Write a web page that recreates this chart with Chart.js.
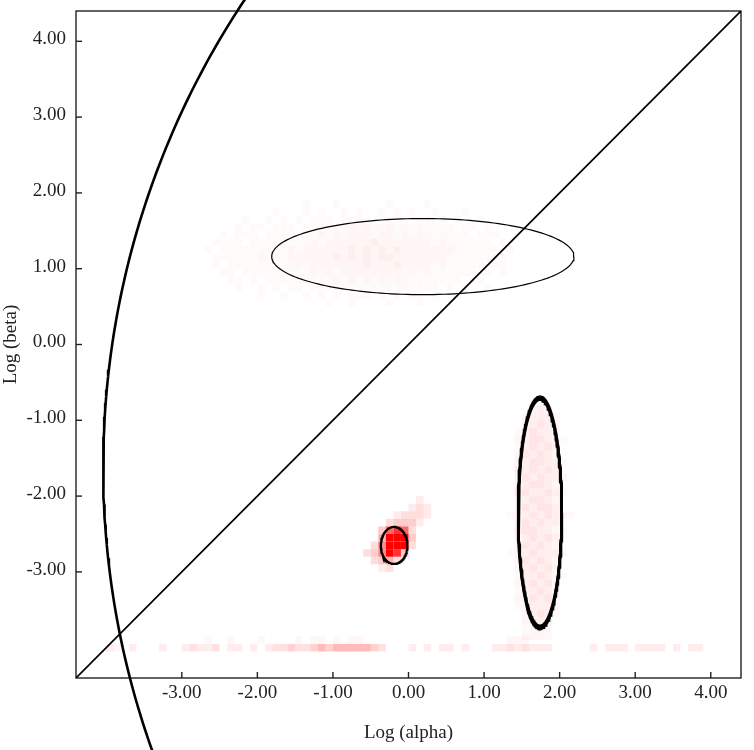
<!DOCTYPE html>
<html>
<head>
<meta charset="utf-8">
<script src="https://cdn.jsdelivr.net/npm/chart.js@4.4.1/dist/chart.umd.min.js"></script>
<style>
  html, body { margin: 0; padding: 0; background: #fff; }
  #wrap { width: 754px; height: 750px; }
</style>
</head>
<body>
<div id="wrap"><canvas id="grafico" width="754" height="750"></canvas></div>
<script>
// Ejes
const tickVals = [-3, -2, -1, 0, 1, 2, 3, 4];
const ejeMin = -4.4;
const ejeMax = 4.4;

// Intensidad de cada celda (digito 0-9 -> opacidad del rojo)
const niveles = [0, 0.04, 0.08, 0.13, 0.2, 0.3, 0.45, 0.6, 0.8, 1];
const paso = 0.1;

// Mancha roja (columnas desde x=-0.55, filas desde y=-2.05 hacia abajo)
const blobX0 = -0.55, blobY0 = -2.05;
const blobRows = [
    "000000020",
    "000000232",
    "000023332",
    "000344420",
    "004787300",
    "005999400",
    "036999300",
    "346984000",
    "034530000",
    "002300000"
];

// Elipse vertical (columnas desde x=1.35, filas desde y=-0.75)
const tallX0 = 1.35, tallY0 = -0.75;
const tallRows = [
    "000110000",
    "000232000",
    "002333100",
    "002343200",
    "013433200",
    "023443210",
    "013434300",
    "024343200",
    "023443310",
    "033434300",
    "024343320",
    "023443200",
    "034334310",
    "023443200",
    "024344300",
    "123434321",
    "024343300",
    "034433210",
    "023434300",
    "024343200",
    "123433310",
    "024343200",
    "023434200",
    "013343210",
    "023434200",
    "013343200",
    "022434100",
    "012333200",
    "002343100",
    "002333000",
    "001232000",
    "002221000"
];

// Zona de la elipse ancha (columnas desde x=-2.75, filas desde y=1.85)
const wideX0 = -2.75, wideY0 = 1.85;
const wideRows = [
    "00000000000000100010000001000010000000000000",
    "00000000001000101001010010101001000100000000",
    "00000010010101011101111011110110101001000000",
    "00000101101110111111212112111111110110100000",
    "00010111011111112121222122121211111101110000",
    "00111101111211121222222322222221211111101000",
    "01011111111121222222323232322222221111110100",
    "00111111211122222232323233222222211111111000",
    "00101111111112122222223222322221211111011000",
    "00011011111111121212222222212121111110101000",
    "00001101011111111121212121211111111011000000",
    "00000100101011011111111111111111010100100000",
    "00000000100100101010111010101101001000000000",
    "00000000000000000100100001000100000000000000"
];

// Banda inferior (columnas desde x=-3.95, filas desde y=-3.9)
const bandX0 = -3.95, bandY0 = -3.9;
const bandRows = [
    "00000000000001001000100001011010110000000000000000000111000000000000000000000000",
    "210200020023223022020233433454555554300020202202000223232220000020222022220202200"
];

// Factor de opacidad por zona
const factorBlob = 1, factorTall = 0.5, factorWide = 0.5, factorBand = 0.9;

// Elipses: centro y semiejes
const elipseCx = [0.19, -0.19, 1.74, 1.74];
const elipseCy = [1.16, -2.65, -2.22, -2.22];
const elipseRx = [2.0, 0.176, 0.288, 0.288];
const elipseRy = [0.502, 0.244, 1.53, 1.495];
const elipseAncho = [1.2, 2.2, 3, 3];

// Arco grande (circulo) y diagonal
const arcoCx = 7.06, arcoCy = -1.62, arcoR = 11.1;
const arcoYTop = 4.7, arcoYBottom = -5.5;
const diagonal = [-4.4, 4.4];

function celdas(x0, y0, filas) {
    const pts = [];
    filas.forEach((fila, r) => {
        for (let i = 0; i < fila.length; i++) {
            const d = Number(fila[i]);
            if (d > 0) {
                pts.push({ x: +(x0 + paso * i).toFixed(2), y: +(y0 - paso * r).toFixed(2), a: niveles[d] });
            }
        }
    });
    return pts;
}

function datasetCeldas(pts, factor) {
    return {
        type: 'scatter',
        data: pts,
        pointStyle: 'rect',
        pointRadius: 5.35,
        borderWidth: 0,
        backgroundColor: pts.map(p => 'rgba(255,0,0,' + (p.a * factor).toFixed(3) + ')'),
        order: 2
    };
}

function contornoElipse(i) {
    const pts = [];
    const n = 180;
    for (let k = 0; k <= n; k++) {
        const t = 2 * Math.PI * k / n;
        pts.push({ x: elipseCx[i] + elipseRx[i] * Math.cos(t), y: elipseCy[i] + elipseRy[i] * Math.sin(t) });
    }
    return pts;
}

function contornoArco() {
    const t1 = Math.PI - Math.asin((arcoYTop - arcoCy) / arcoR);
    const t2 = Math.PI - Math.asin((arcoYBottom - arcoCy) / arcoR);
    const pts = [];
    const n = 120;
    for (let k = 0; k <= n; k++) {
        const t = t1 + (t2 - t1) * k / n;
        pts.push({ x: arcoCx + arcoR * Math.cos(t), y: arcoCy + arcoR * Math.sin(t) });
    }
    return pts;
}

function linea(data, ancho, extra) {
    return Object.assign({
        type: 'scatter',
        data: data,
        showLine: true,
        borderColor: '#000',
        borderWidth: ancho,
        pointRadius: 0,
        fill: false,
        order: 0
    }, extra || {});
}

const datasets = [
    linea(contornoArco(), 2.6, { clip: false }),
    linea(diagonal.map(v => ({ x: v, y: v })), 1.7),
    ...elipseCx.map((_, i) => linea(contornoElipse(i), elipseAncho[i])),
    datasetCeldas(celdas(blobX0, blobY0, blobRows), factorBlob),
    datasetCeldas(celdas(tallX0, tallY0, tallRows), factorTall),
    datasetCeldas(celdas(wideX0, wideY0, wideRows), factorWide),
    datasetCeldas(celdas(bandX0, bandY0, bandRows), factorBand)
];

// Marco y marcas hacia dentro
const marco = {
    id: 'marco',
    beforeDatasetsDraw(chart) {
        const { ctx, chartArea: a, scales } = chart;
        ctx.save();
        ctx.strokeStyle = '#222';
        ctx.lineWidth = 1.4;
        ctx.strokeRect(a.left, a.top, a.right - a.left, a.bottom - a.top);
        tickVals.forEach(v => {
            const px = scales.x.getPixelForValue(v);
            ctx.beginPath();
            ctx.moveTo(px, a.bottom);
            ctx.lineTo(px, a.bottom - 6);
            ctx.stroke();
            const py = scales.y.getPixelForValue(v);
            ctx.beginPath();
            ctx.moveTo(a.left, py);
            ctx.lineTo(a.left + 6, py);
            ctx.stroke();
        });
        ctx.restore();
    }
};

const fuenteTicks = { family: 'Liberation Serif', size: 19 };
const fuenteTitulo = { family: 'Liberation Serif', size: 19 };

const ctx = document.getElementById('grafico').getContext('2d');
const grafico = new Chart(ctx, {
    type: 'scatter',
    data: { datasets: datasets },
    options: {
        responsive: false,
        animation: false,
        devicePixelRatio: 1,
        events: [],
        layout: { padding: { top: 11, right: 13, left: 0, bottom: 0 } },
        plugins: {
            legend: { display: false },
            tooltip: { enabled: false }
        },
        scales: {
            x: {
                type: 'linear',
                min: ejeMin,
                max: ejeMax,
                afterBuildTicks: s => { s.ticks = tickVals.map(v => ({ value: v })); },
                afterFit: s => { s.height = 72; s.paddingLeft = 0; s.paddingRight = 0; },
                ticks: {
                    callback: v => v.toFixed(2),
                    font: fuenteTicks,
                    color: '#222',
                    padding: 4,
                    maxRotation: 0,
                    autoSkip: false
                },
                grid: { display: false, drawTicks: false },
                border: { display: false },
                title: {
                    display: true,
                    text: 'Log (alpha)',
                    font: fuenteTitulo,
                    color: '#222',
                    padding: { top: 0, bottom: 6 }
                }
            },
            y: {
                type: 'linear',
                min: ejeMin,
                max: ejeMax,
                afterBuildTicks: s => { s.ticks = tickVals.map(v => ({ value: v })); },
                afterFit: s => { s.width = 76; s.paddingTop = 0; s.paddingBottom = 0; },
                ticks: {
                    callback: v => v.toFixed(2),
                    font: fuenteTicks,
                    color: '#222',
                    padding: 10,
                    labelOffset: -2,
                    autoSkip: false
                },
                grid: { display: false, drawTicks: false },
                border: { display: false },
                title: {
                    display: true,
                    text: 'Log (beta)',
                    font: fuenteTitulo,
                    color: '#222',
                    padding: { top: 0, bottom: 0 }
                }
            }
        }
    },
    plugins: [marco]
});
</script>
</body>
</html>
